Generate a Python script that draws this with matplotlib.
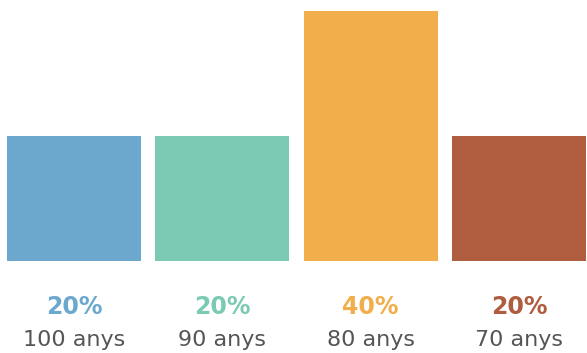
import numpy as np
import matplotlib.pyplot as plt
from matplotlib.transforms import blended_transform_factory

categories = ["100 anys", "90 anys", "80 anys", "70 anys"]
values = [20, 20, 40, 20]
pct_labels = ["20%", "20%", "40%", "20%"]
colors = ["#6CA8CE", "#7CCAB3", "#F1AE4A", "#B05C3F"]

W, H = 587, 353
fig = plt.figure(figsize=(W / 100, H / 100), dpi=100)
# axes fills the top part of the figure down to the bar baseline (y=261 px)
ax = fig.add_axes([0, (H - 261) / H, 1, 261 / H])

x = np.arange(len(categories))
ax.bar(x, values, width=0.904, color=colors)
ax.set_xlim(-74 / 148.3, (W - 74) / 148.3)
ax.set_ylim(0, 261 / 6.25)
ax.axis("off")

trans = blended_transform_factory(ax.transData, fig.transFigure)
for i in x:
    ax.text(i, (H - 314) / H, pct_labels[i], transform=trans, ha="center",
            va="baseline", fontsize=17, fontweight="bold", color=colors[i])
    ax.text(i, (H - 346) / H, categories[i], transform=trans, ha="center",
            va="baseline", fontsize=16, color="#555555")

fig.savefig("out.png", dpi=100)
